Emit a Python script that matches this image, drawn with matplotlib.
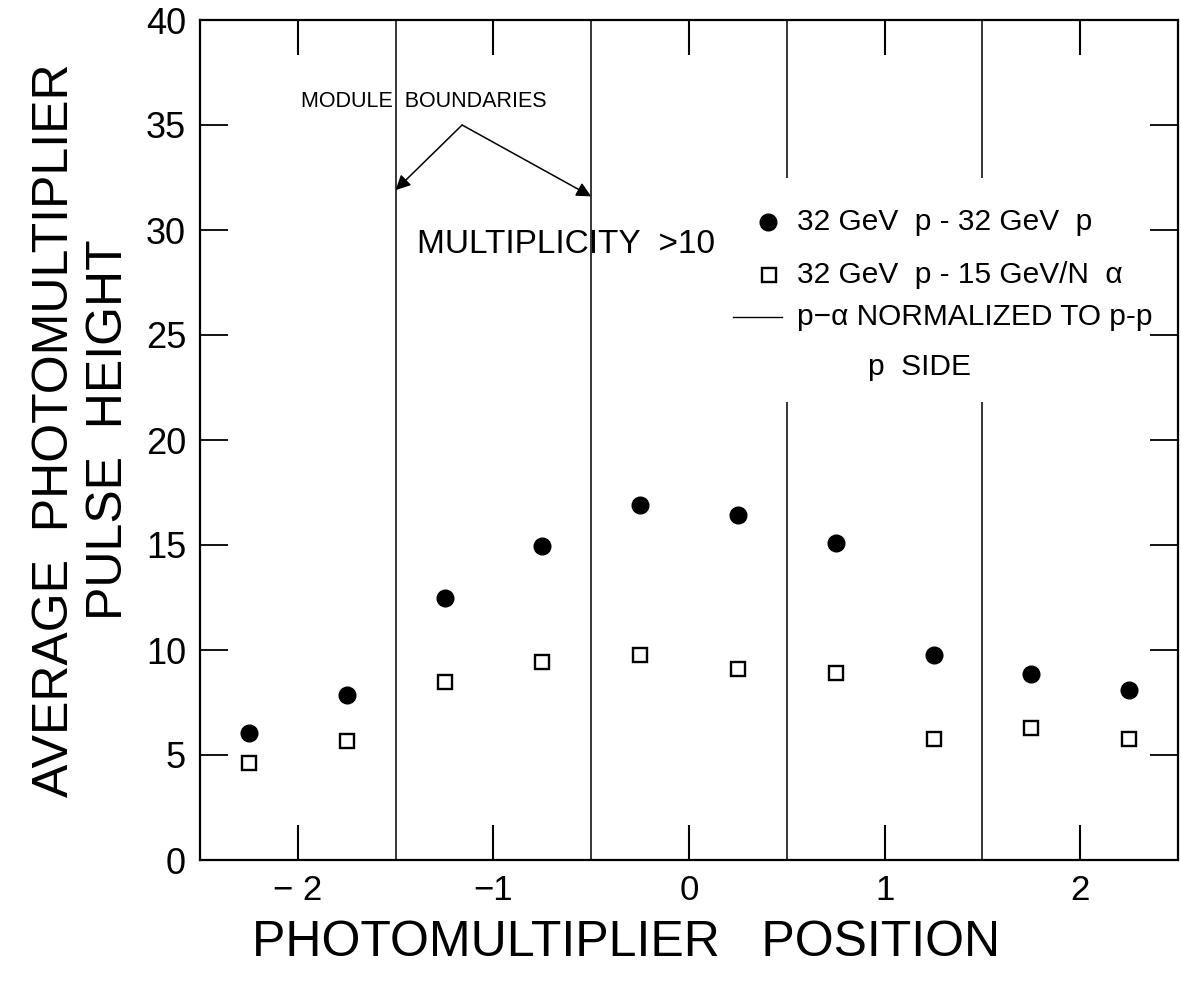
import matplotlib
matplotlib.use("Agg")
import matplotlib.pyplot as plt

plt.rcParams['font.family'] = ['Liberation Sans', 'DejaVu Sans']

# ---- data ----
positions = [-2.25, -1.75, -1.25, -0.75, -0.25, 0.25, 0.75, 1.25, 1.75, 2.25]
pp_values = [6.05, 7.85, 12.5, 14.95, 16.9, 16.45, 15.1, 9.75, 8.85, 8.1]
pa_values = [4.6, 5.65, 8.5, 9.45, 9.75, 9.1, 8.9, 5.75, 6.3, 5.75]
x_ticks = [-2, -1, 0, 1, 2]
x_tick_labels = ["\u2212 2", "\u22121", "0", "1", "2"]
y_ticks = [0, 5, 10, 15, 20, 25, 30, 35, 40]
y_tick_labels = ["0", "5", "10", "15", "20", "25", "30", "35", "40"]
boundaries_full = [-1.5, -0.5]
boundaries_split = [0.5, 1.5]
split_lower = (0.0, 21.8)
split_upper = (32.5, 40.0)
legend_labels = ["32 GeV  p - 32 GeV  p",
                 "32 GeV  p - 15 GeV/N  \u03b1",
                 "p\u2212\u03b1 NORMALIZED TO p-p"]

fig = plt.figure(figsize=(11.81, 9.84), dpi=100)
ax = fig.add_axes([200/1181, (984-860)/984, 978/1181, 840/984])

ax.set_xlim(-2.5, 2.5)
ax.set_ylim(0, 40)

for s in ax.spines.values():
    s.set_linewidth(1.6)

ax.set_xticks(x_ticks)
ax.set_xticklabels(x_tick_labels)
ax.set_yticks(y_ticks)
ax.set_yticklabels(y_tick_labels)
ax.tick_params(axis='x', direction='in', length=25, width=1.5, top=True,
               labelsize=25, pad=10)
ax.tick_params(axis='y', direction='in', length=20, width=1.3, right=True,
               labelsize=26, pad=10)

# module boundaries
ax.vlines(boundaries_full, 0, 40, color='black', lw=1.1)
ax.vlines(boundaries_split, split_lower[0], split_lower[1], color='black', lw=1.1)
ax.vlines(boundaries_split, split_upper[0], split_upper[1], color='black', lw=1.1)

# data
ax.plot(positions, pp_values, 'o', color='black', ms=12, ls='none')
ax.plot(positions, pa_values, 's', mfc='white', mec='black', mew=1.7, ms=10, ls='none')

# annotations
ax.text(-1.357, 36.1, "MODULE  BOUNDARIES", ha='center', va='center', fontsize=15.5)
apex = (-1.16, 35.0)
for tip in [(-1.5, 31.9), (-0.5, 31.6)]:
    ax.annotate("", xy=tip, xytext=apex,
                arrowprops=dict(arrowstyle='-|>', color='black', lw=1.1,
                                mutation_scale=22, shrinkA=0, shrinkB=0))
ax.text(-1.39, 29.3, "MULTIPLICITY  >10", ha='left', va='center', fontsize=24)

# legend keys (axes coordinates)
T = ax.transAxes
ax.plot([0.581], [0.7595], 'o', color='black', ms=12, transform=T, clip_on=False)
ax.plot([0.582], [0.696], 's', mfc='white', mec='black', mew=1.7, ms=10, transform=T, clip_on=False)
ax.plot([0.545, 0.595], [0.646, 0.646], '-', color='black', lw=1.0, transform=T)
ax.text(0.610, 0.7595, legend_labels[0], transform=T, ha='left', va='center', fontsize=21.5)
ax.text(0.610, 0.696, legend_labels[1], transform=T, ha='left', va='center', fontsize=21.5)
ax.text(0.610, 0.646, legend_labels[2], transform=T, ha='left', va='center', fontsize=21.5)
ax.text(0.683, 0.587, "p  SIDE", transform=T, ha='left', va='center', fontsize=21.5)

ax.set_xlabel("PHOTOMULTIPLIER   POSITION", fontsize=36)
ax.xaxis.set_label_coords(0.436, -0.072)
ax.set_ylabel("AVERAGE  PHOTOMULTIPLIER\nPULSE  HEIGHT", fontsize=36, linespacing=1.2)
ax.yaxis.set_label_coords(-0.07, 0.512)

fig.savefig("out.png", dpi=100)
